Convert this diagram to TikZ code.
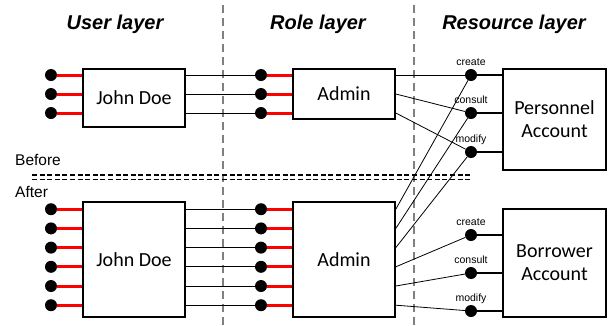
\documentclass[tikz,border=0pt]{standalone}
\usepackage{fontspec}
\setmainfont{Carlito}
\newfontfamily\arialfont{Liberation Sans}
\usetikzlibrary{positioning}
\tikzset{
    box/.style={draw, line width=1.6pt, minimum width=102pt, inner sep=0pt, align=center, font=\fontsize{20}{23}\selectfont},
    port/.style={circle, fill=black, inner sep=0pt, minimum size=12pt},
    redstub/.style={draw=red, line width=3pt},
    blackstub/.style={line width=2.8pt},
    link/.style={line width=0.8pt},
    layer/.style={anchor=base, font=\arialfont\bfseries\itshape\fontsize{20}{24}\selectfont},
    act/.style={anchor=base, inner sep=0pt, font=\arialfont\fontsize{10.5}{13}\selectfont},
    note/.style={anchor=west, inner sep=0pt, font=\arialfont\fontsize{15.5}{18}\selectfont},
    divider/.style={draw=gray, line width=1.6pt, dash pattern=on 8pt off 5pt},
    splitline/.style={line width=1.3pt, dash pattern=on 5pt off 2.6pt}
}
\begin{document}
\begin{tikzpicture}[x=1pt, y=-1pt]
    \useasboundingbox (0,0) rectangle (608,325);
    \draw [divider] (223,5) -- (223,325);
    \draw [divider] (414,5) -- (414,325);
    \node [layer] (userlayer) at (115,29) {User layer};
    \node [layer] (rolelayer) at (318,29) {Role layer};
    \node [layer] (reslayer) at (514,29) {Resource layer};
    \node [note] (before) at (15,160) {Before};
    \node [note] (after) at (15,192) {After};
    \draw [splitline] (32,175) -- (471,175);
    \draw [splitline] (32,179.5) -- (471,179.5);

    \node [box, minimum height=58pt] (jd1) at (134,98) {John Doe};
    \node [box, minimum height=50pt] (ad1) at (344,94) {Admin};
    \node [box, minimum width=103pt, minimum height=101pt] (pa) at (554.5,119.5) {Personnel\\Account};
    \node [box, minimum height=115pt] (jd2) at (134,259.5) {John Doe};
    \node [box, minimum height=115pt] (ad2) at (344,259.5) {Admin};
    \node [box, minimum width=103pt, minimum height=108pt] (ba) at (554.5,263) {Borrower\\Account};

    \foreach \n/\y/\t in {pc/75/create, pk/113/consult, pm/152/modify} {
        \node [port] (\n) at (471,\y) {};
        \node [act] (\n-lbl) at ([yshift=10pt]\n.center) {\t};
        \draw [blackstub] (\n) -- (\n -| pa.west);
    }
    \foreach \n/\y/\t in {bc/235/create, bk/273/consult, bm/311/modify} {
        \node [port] (\n) at (471,\y) {};
        \node [act] (\n-lbl) at ([yshift=10pt]\n.center) {\t};
        \draw [blackstub] (\n) -- (\n -| ba.west);
    }

    \foreach \y [count=\i] in {75,94,113} {
        \node [port] (u1\i) at (51,\y) {};
        \node [port] (r1\i) at (261,\y) {};
        \draw [redstub] (u1\i) -- (u1\i -| jd1.west);
        \draw [link] (u1\i -| jd1.east) -- (r1\i);
        \draw [redstub] (r1\i) -- (r1\i -| ad1.west);
    }
    \foreach \i in {1,...,6} {
        \pgfmathsetmacro\y{190+19.2*\i}
        \node [port] (u2\i) at (51,\y) {};
        \node [port] (r2\i) at (261,\y) {};
        \draw [redstub] (u2\i) -- (u2\i -| jd2.west);
        \draw [link] (u2\i -| jd2.east) -- (r2\i);
        \draw [redstub] (r2\i) -- (r2\i -| ad2.west);
    }

    \foreach \p [count=\i] in {pc,pk,pm}
    \draw [link] (r1\i -| ad1.east) -- (\p);
    \foreach \p [count=\i] in {pc,pk,pm,bc,bk,bm}
    \draw [link] (r2\i -| ad2.east) -- (\p);
\end{tikzpicture}
\end{document}
